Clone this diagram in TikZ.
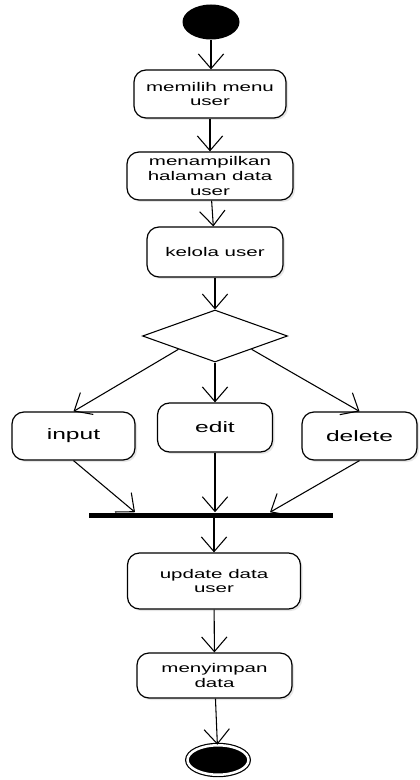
\documentclass[tikz,border=0pt]{standalone}
\usepackage{fontspec}
\setmainfont{Liberation Sans}[FakeStretch=1.63]
\usetikzlibrary{arrows.meta, shapes.geometric, shadows, calc}

\begin{document}
\begin{tikzpicture}[x=0.75pt, y=-0.75pt]
\useasboundingbox (0,0) rectangle (419,780);
\tikzset{Act/.style={draw, rounded corners=9pt, fill=white, align=center, line width=0.9pt, inner sep=1pt,
  font=\fontsize{9.45}{11}\selectfont, drop shadow={shadow xshift=1.5pt, shadow yshift=-1.5pt, opacity=0.2}}}
\tikzset{ActBig/.style={Act, font=\fontsize{11.3}{13}\selectfont}}
\tikzset{Flow/.style={-{Straight Barb[length=11pt, width=19pt]}, line width=0.8pt}}
\node[ellipse, fill=black, minimum width=42.75pt, minimum height=26.25pt, inner sep=0pt] (start) at (211,22) {};
\node[Act, minimum width=114pt, minimum height=36pt] (memilih) at (210,94) {memilih menu\\user};
\node[Act, minimum width=124.5pt, minimum height=36pt] (tampil) at (210,176) {menampilkan\\halaman data\\user};
\node[Act, minimum width=102pt, minimum height=37.5pt] (kelola) at (215,252) {kelola user};
\node[diamond, draw, line width=0.8pt, minimum width=108.75pt, minimum height=39pt, inner sep=0pt] (pilih) at (215,336) {};
\node[ActBig, minimum width=92.25pt, minimum height=36pt] (input) at (73.5,436) {input};
\node[ActBig, minimum width=86.25pt, minimum height=36.75pt] (edit) at (215,427.5) {edit};
\node[ActBig, minimum width=86.25pt, minimum height=36pt] (delete) at (359.5,436) {delete};
\node[fill=black, minimum width=183pt, minimum height=3.75pt, inner sep=0pt] (bar) at (211,515) {};
\node[Act, minimum width=129.75pt, minimum height=42pt] (update) at (214,581) {update data\\user};
\node[Act, minimum width=116.25pt, minimum height=33.75pt] (simpan) at (214.5,675.5) {menyimpan\\data};
\node[ellipse, draw, fill=black, line width=0.9pt, double, double distance=1.9pt, minimum width=45.75pt, minimum height=22.1pt, inner sep=0pt] (end) at (218,760) {};
\draw[Flow] (start) -- (start |- memilih.north);
\draw[Flow] (memilih) -- (tampil);
\draw[Flow] (tampil) -- (kelola);
\draw[Flow] (kelola) -- (pilih);
\draw[Flow] ($(pilih.west)!0.5!(pilih.south)$) -- (input.north);
\draw[Flow] (pilih.south) -- (edit.north);
\draw[Flow] ($(pilih.east)!0.5!(pilih.south)$) -- (delete.north);
\draw[Flow] (input.south) -- ($(bar.north)+(-76,0)$);
\draw[Flow] (edit.south) -- (edit.south |- bar.north);
\draw[Flow] (delete.south) -- ($(bar.north)+(59,0)$);
\draw[Flow] (update.north |- bar.south) -- (update.north);
\draw[Flow] (update) -- (simpan);
\draw[Flow] (simpan) -- (end);
\end{tikzpicture}
\end{document}
